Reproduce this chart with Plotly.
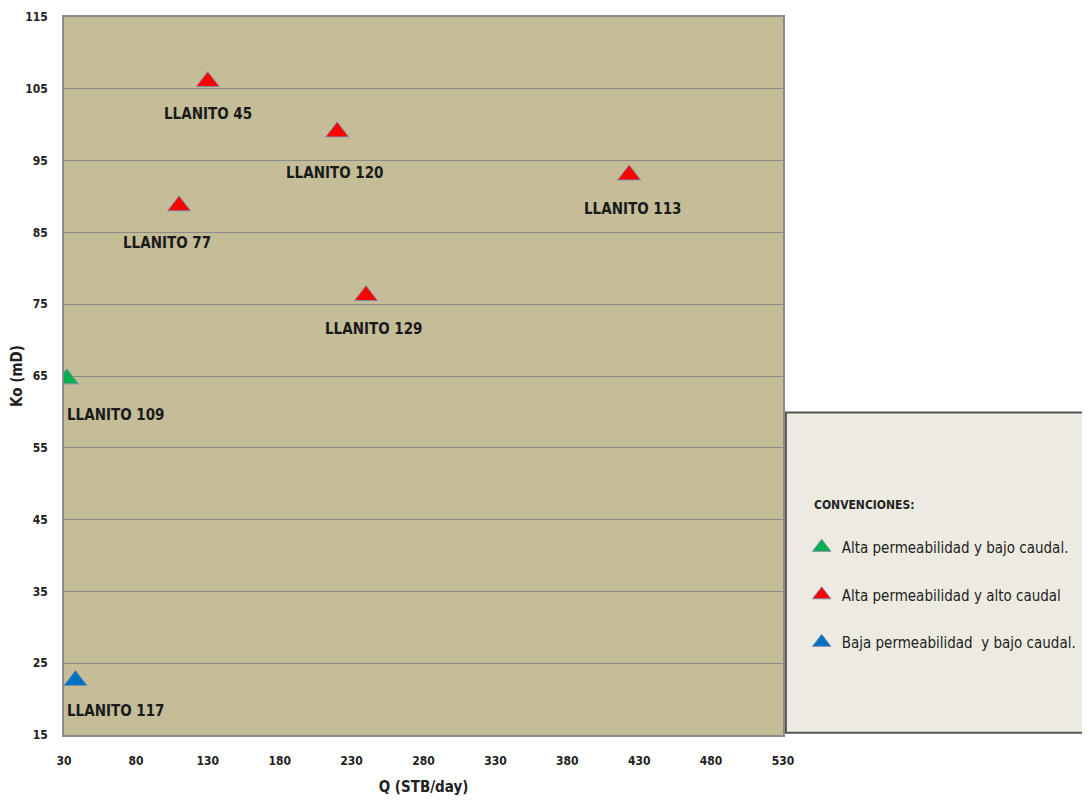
import plotly.graph_objects as go

# Data
wells = ["LLANITO 45", "LLANITO 120", "LLANITO 113", "LLANITO 77", "LLANITO 129", "LLANITO 109", "LLANITO 117"]
q_values = [130, 220, 423, 110, 240, 32, 38]
ko_values = [106, 99, 93, 88.7, 76.2, 64.6, 22.6]
groups = ["red", "red", "red", "red", "red", "green", "blue"]

group_names = {
    "green": "Alta permeabilidad y bajo caudal.",
    "red": "Alta permeabilidad y alto caudal",
    "blue": "Baja permeabilidad  y bajo caudal.",
}
group_colors = {"green": "#00B050", "red": "#FF0000", "blue": "#0070C0"}
group_order = ["green", "red", "blue"]

# label offsets in pixels (style)
label_shift = {
    "LLANITO 45": (0, -32),
    "LLANITO 120": (-2, -41),
    "LLANITO 113": (4, -34),
    "LLANITO 77": (-12, -37),
    "LLANITO 129": (8, -33),
    "LLANITO 109": (49, -36),
    "LLANITO 117": (40, -31),
}

FONT = "Liberation Sans Narrow, Arial Narrow, DejaVu Sans Condensed, sans-serif"

fig = go.Figure()
for g in group_order:
    xs = [q for q, gg in zip(q_values, groups) if gg == g]
    ys = [k for k, gg in zip(ko_values, groups) if gg == g]
    fig.add_trace(go.Scatter(
        x=xs, y=ys, mode="markers", name=group_names[g], legendgroup=g,
        marker=dict(symbol="triangle-up", size=20, color=group_colors[g],
                    line=dict(color="#7F8FA8", width=1)),
    ))

for w, q, k in zip(wells, q_values, ko_values):
    dx, dy = label_shift[w]
    fig.add_annotation(x=q, y=k, text="<b>" + w + "</b>", showarrow=False,
                       xshift=dx, yshift=dy,
                       font=dict(family=FONT, size=15, color="#1A1A1A"))

# legend box
fig.add_shape(type="rect", xref="paper", yref="paper",
              x0=1.004, x1=1.44, y0=0.003, y1=0.449,
              line=dict(color="#555555", width=2), fillcolor="#EDEBE1", layer="below")
fig.add_annotation(xref="paper", yref="paper", x=1.040, y=0.320, xanchor="left", yanchor="middle",
                   text="<b>CONVENCIONES:</b>", showarrow=False,
                   font=dict(family=FONT, size=12, color="#222222"))

fig.update_layout(
    width=1090, height=809,
    margin=dict(l=56, r=315, t=9, b=82),
    paper_bgcolor="white",
    plot_bgcolor="#C4BD97",
    font=dict(family=FONT, size=13, color="#222222"),
    showlegend=True,
    legend=dict(
        x=1.026, y=0.284, xanchor="left", yanchor="top",
        bgcolor="rgba(0,0,0,0)", borderwidth=0,
        font=dict(family=FONT, size=15, color="#222222"),
        tracegroupgap=25, itemwidth=30,
    ),
    xaxis=dict(
        range=[30, 530], tick0=30, dtick=50, showgrid=False, zeroline=False,
        showline=True, linecolor="#8C8C8C", linewidth=1.5, mirror=True,
        ticks="", ticklabelstandoff=14, automargin=False, ticklabeloverflow="allow",
        tickfont=dict(family=FONT, size=12, color="#222222", weight="bold"),
        title=dict(text="<b>Q (STB/day)</b>", font=dict(family=FONT, size=15, color="#222222"), standoff=14),
    ),
    yaxis=dict(
        range=[15, 115], tick0=15, dtick=10, showgrid=True, gridcolor="#8A8A8A", gridwidth=1.3,
        zeroline=False, showline=True, linecolor="#8C8C8C", linewidth=1.5, mirror=True,
        ticks="", ticklabelstandoff=12, automargin=False, ticklabeloverflow="allow",
        tickfont=dict(family=FONT, size=12, color="#222222", weight="bold"),
        title=dict(text="<b>Ko (mD)</b>", font=dict(family=FONT, size=15, color="#222222"), standoff=10),
    ),
)

fig.write_html("out.html")
